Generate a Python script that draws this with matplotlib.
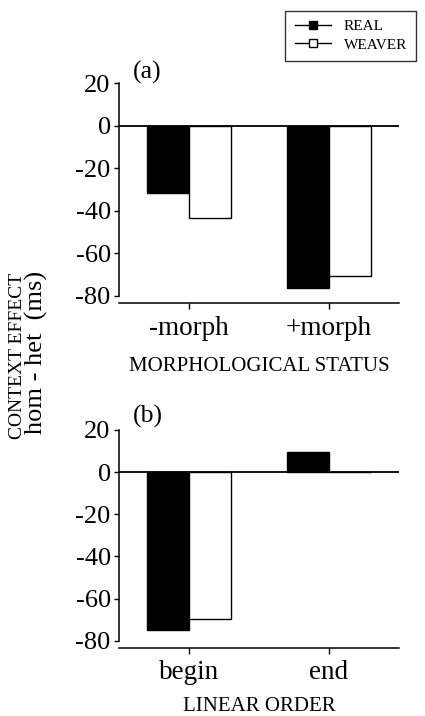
import numpy as np
import matplotlib.pyplot as plt
from matplotlib.lines import Line2D

plt.rcParams['font.family'] = ['Liberation Serif', 'DejaVu Serif']

# panel (a)
morph_cats = ['-morph', '+morph']
morph_real = [-31.7, -76.4]
morph_weaver = [-43.4, -70.6]

# panel (b)
order_cats = ['begin', 'end']
order_real = [-74.8, 9.7]
order_weaver = [-69.7, 0.0]

yticks = [20, 0, -20, -40, -60, -80]

fig = plt.figure(figsize=(4.25, 7.16), dpi=100)
ax1 = fig.add_axes([0.28, 0.5768, 0.659, 0.3221])
ax2 = fig.add_axes([0.28, 0.0954, 0.659, 0.3188])

w = 0.3


def panel(ax, cats, real, weaver, xlabel, tag, label_y, tag_y, xpad):
    x = np.arange(len(cats))
    ax.bar(x - w / 2, real, w, color='black', edgecolor='black', linewidth=1)
    ax.bar(x + w / 2, weaver, w, color='white', edgecolor='black', linewidth=1)
    ax.axhline(0, color='black', linewidth=1.3, zorder=0)
    ax.set_xlim(-0.5, 1.5)
    ax.set_ylim(-83.3, 25)
    ax.set_yticks(yticks)
    ax.set_yticklabels([str(t) for t in yticks])
    ax.set_xticks(x)
    ax.set_xticklabels(cats)
    ax.spines['top'].set_visible(False)
    ax.spines['right'].set_visible(False)
    ax.spines['left'].set_bounds(-80, 20)
    for s in ('left', 'bottom'):
        ax.spines[s].set_linewidth(1.1)
    ax.tick_params(axis='y', direction='out', length=3.5, width=1,
                   pad=2.5, labelsize=19)
    ax.tick_params(axis='x', direction='out', length=4, width=1,
                   pad=xpad, labelsize=19.5)
    ax.set_xlabel(xlabel, fontsize=15)
    ax.xaxis.set_label_coords(0.5, label_y)
    ax.text(0.05, tag_y, tag, transform=ax.transAxes, fontsize=18.5,
            ha='left', va='center')


panel(ax1, morph_cats, morph_real, morph_weaver, 'MORPHOLOGICAL STATUS', '(a)',
      -0.235, 1.0, 5.5)
panel(ax2, order_cats, order_real, order_weaver, 'LINEAR ORDER', '(b)',
      -0.218, 1.015, 5.0)

fig.text(0.041, 0.503, 'CONTEXT EFFECT', rotation=90, fontsize=14,
         ha='center', va='center')
fig.text(0.086, 0.508, 'hom - het  (ms)', rotation=90, fontsize=19,
         ha='center', va='center')

handles = [
    Line2D([], [], color='black', marker='s', markersize=6,
           markerfacecolor='black', markeredgecolor='black', linewidth=1),
    Line2D([], [], color='black', marker='s', markersize=6,
           markerfacecolor='white', markeredgecolor='black', linewidth=1),
]
leg = fig.legend(handles, ['REAL', 'WEAVER'], loc='upper right',
                 bbox_to_anchor=(0.997, 0.996), fontsize=11, frameon=True,
                 fancybox=False, edgecolor='black', handlelength=2.4,
                 handletextpad=0.8, borderpad=0.6, labelspacing=0.3)
leg.get_frame().set_linewidth(1)

fig.savefig('out.png', dpi=100)
